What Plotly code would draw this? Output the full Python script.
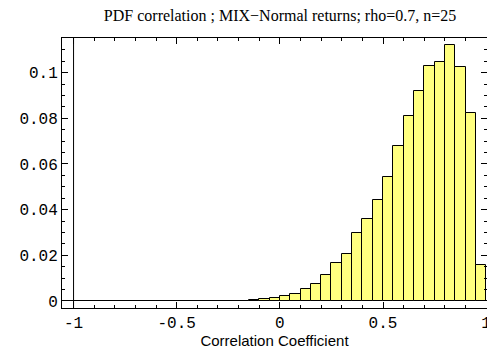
import plotly.graph_objects as go

# bin left edges (width 0.05) and probability per bin
bin_width = 0.05
bin_starts = [-0.30, -0.25, -0.20, -0.15, -0.10, -0.05, 0.00, 0.05, 0.10, 0.15,
              0.20, 0.25, 0.30, 0.35, 0.40, 0.45, 0.50, 0.55, 0.60, 0.65,
              0.70, 0.75, 0.80, 0.85, 0.90, 0.95]
probs = [0.0000, 0.0001, 0.0001, 0.0003, 0.0007, 0.0012, 0.0020, 0.0032, 0.0051, 0.0074,
         0.0112, 0.0168, 0.0207, 0.0296, 0.0359, 0.0441, 0.0542, 0.0679, 0.0810, 0.0920,
         0.1031, 0.1045, 0.1120, 0.1025, 0.0823, 0.0156]

x_tickvals = [-1, -0.5, 0, 0.5, 1]
x_ticktext = ["-1", "-0.5", "0", "0.5", "1"]
y_tickvals = [0, 0.02, 0.04, 0.06, 0.08, 0.1]
y_ticktext = ["0", "0.02", "0.04", "0.06", "0.08", "0.1"]
axes_origin_x = -1

centers = [s + bin_width / 2 for s in bin_starts]

fig = go.Figure()
fig.add_trace(go.Bar(
    x=centers, y=probs, width=[bin_width] * len(centers),
    marker=dict(color="#FFFF80", line=dict(color="black", width=1)),
))

fig.add_shape(type="line", xref="x", yref="paper", x0=axes_origin_x, x1=axes_origin_x,
              y0=0, y1=1, line=dict(color="black", width=1))

fig.update_layout(
    width=487, height=349,
    margin=dict(l=62, r=0, t=38, b=41),
    plot_bgcolor="white", paper_bgcolor="white",
    showlegend=False,
    bargap=0,
    title=dict(text="PDF correlation ; MIX\u2212Normal returns; rho=0.7, n=25",
               font=dict(family="Liberation Serif", size=16, color="black"),
               x=0.575, xanchor="center", y=0.955, yanchor="middle"),
)
fig.update_xaxes(
    range=[-1.056, 1.004], showgrid=False, zeroline=False, automargin=False,
    showline=True, linecolor="black", linewidth=1, mirror="ticks",
    ticks="inside", ticklen=6, tickcolor="black",
    tickvals=x_tickvals, ticktext=x_ticktext, ticklabeloverflow="allow",
    minor=dict(ticks="inside", ticklen=3, dtick=0.1, tick0=0, tickcolor="black"),
    tickfont=dict(family="Liberation Mono", size=16, color="black"),
    title=dict(text="Correlation Coefficient", standoff=0,
               font=dict(family="Liberation Sans", size=15, color="black")),
)
fig.update_yaxes(
    range=[-0.0031, 0.1152], showgrid=False, automargin=False,
    zeroline=True, zerolinecolor="black", zerolinewidth=1,
    showline=True, linecolor="black", linewidth=1, mirror="ticks",
    ticks="inside", ticklen=6, tickcolor="black",
    tickvals=y_tickvals, ticktext=y_ticktext,
    minor=dict(ticks="inside", ticklen=3, dtick=0.005, tick0=0, tickcolor="black"),
    tickfont=dict(family="Liberation Mono", size=16, color="black"),
)

fig.write_html("out.html")
